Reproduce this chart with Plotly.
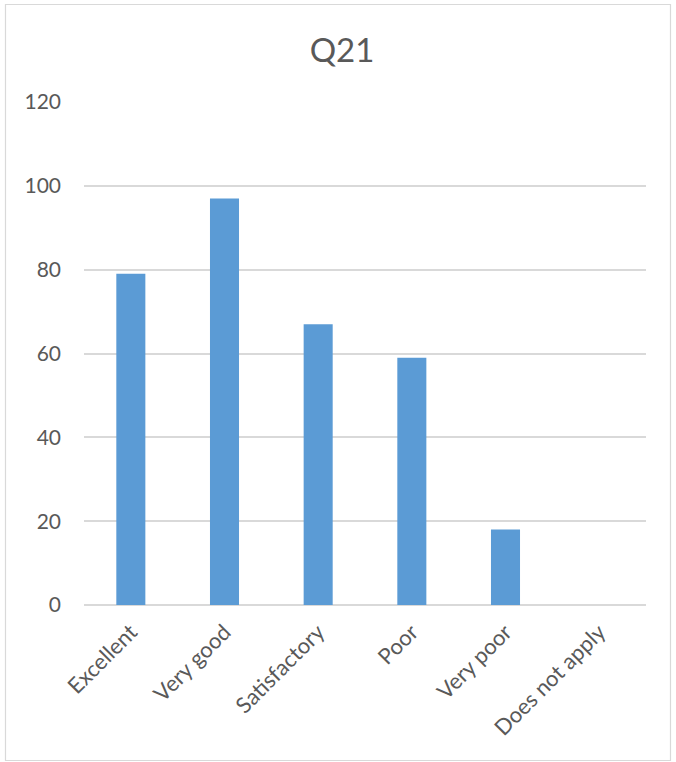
import plotly.graph_objects as go

categories = ["Excellent", "Very good", "Satisfactory", "Poor", "Very poor", "Does not apply"]
counts = [79, 97, 67, 59, 18, 0]
y_ticks = [0, 20, 40, 60, 80, 100, 120]

W, H = 676, 762
L, R, T, B = 84, 30, 102, 157
pw, ph = W - L - R, H - T - B
TEXT = "#595959"
FONT = "Lato"


def px_x(x):
    return (x - L) / pw


def px_y(y):
    return (H - B - y) / ph


fig = go.Figure(
    go.Bar(
        x=categories,
        y=counts,
        marker=dict(color="#5b9bd5", line=dict(width=0)),
    )
)

fig.update_layout(
    width=W,
    height=H,
    margin=dict(l=L, r=R, t=T, b=B),
    paper_bgcolor="white",
    plot_bgcolor="white",
    bargap=0.69,
    showlegend=False,
    title=dict(
        text="Q21",
        x=342 / W,
        xanchor="center",
        y=(H - 50) / H,
        yanchor="middle",
        font=dict(family=FONT, size=33, color=TEXT),
    ),
    font=dict(family=FONT, size=21, color=TEXT),
    shapes=[
        dict(
            type="rect",
            xref="paper",
            yref="paper",
            x0=px_x(5.5),
            x1=px_x(670.5),
            y0=px_y(760.5),
            y1=px_y(4.5),
            line=dict(color="#d9d9d9", width=1.2),
            fillcolor="rgba(0,0,0,0)",
            layer="below",
        )
    ],
)

fig.update_yaxes(
    range=[0, 120],
    tickvals=y_ticks,
    showgrid=True,
    gridcolor="#d9d9d9",
    gridwidth=1.5,
    zeroline=True,
    zerolinecolor="#d9d9d9",
    zerolinewidth=1.5,
    showline=False,
    ticks="",
    ticklabelstandoff=22,
    tickfont=dict(family=FONT, size=21, color=TEXT),
)

fig.update_xaxes(
    showgrid=False,
    showline=False,
    ticks="",
    tickangle=-45,
    ticklabelstandoff=9,
    tickfont=dict(family=FONT, size=22, color=TEXT),
)

fig.write_html("out.html")
